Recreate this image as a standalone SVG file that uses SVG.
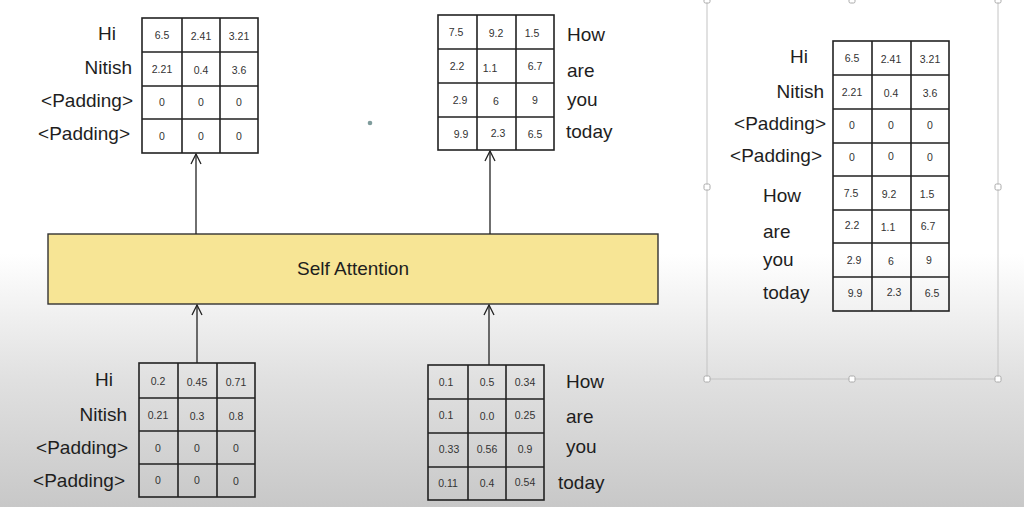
<svg xmlns="http://www.w3.org/2000/svg" width="1024" height="507" viewBox="0 0 1024 507">
  <defs>
    <linearGradient id="bg" x1="0" y1="0" x2="0" y2="1">
      <stop offset="0" stop-color="#ffffff"/>
      <stop offset="0.5" stop-color="#ffffff"/>
      <stop offset="0.75" stop-color="#e0e0e0"/>
      <stop offset="1" stop-color="#c8c8c8"/>
    </linearGradient>
    <marker id="arr" viewBox="0 0 12 12" refX="11" refY="6" markerWidth="12" markerHeight="12" markerUnits="userSpaceOnUse" orient="auto">
      <path d="M1,1 L11,6 L1,11" fill="none" stroke="#222" stroke-width="1.3"/>
    </marker>
    <style>
      .grid { fill: none; stroke: #222; stroke-width: 1.6; }
      .num { font-family: "Liberation Sans", Arial, sans-serif; font-size: 10.5px; fill: #333; text-anchor: middle; }
      .lbl { font-family: "Liberation Sans", Arial, sans-serif; font-size: 19px; fill: #1e1e1e; }
      .end { text-anchor: end; }
      .conn { stroke: #222; stroke-width: 1.3; fill: none; }
      .handle { fill: #ffffff; stroke: #aaaaaa; stroke-width: 1; }
    </style>
  </defs>

  <rect x="0" y="0" width="1024" height="507" fill="url(#bg)"/>
  <circle cx="370" cy="123" r="2.3" fill="#7f9c9c"/>

  <!-- selection frame of right panel -->
  <g id="selection-frame">
    <rect x="707" y="-1" width="291" height="380" fill="none" stroke="#c4c4c4" stroke-width="1"/>
    <rect class="handle" x="704" y="-3" width="6" height="6" rx="1.5"/>
    <rect class="handle" x="849" y="-3" width="6" height="6" rx="1.5"/>
    <rect class="handle" x="995" y="-3" width="6" height="6" rx="1.5"/>
    <rect class="handle" x="704" y="184" width="6" height="6" rx="1.5"/>
    <rect class="handle" x="995" y="184" width="6" height="6" rx="1.5"/>
    <rect class="handle" x="704" y="376" width="6" height="6" rx="1.5"/>
    <rect class="handle" x="849" y="376" width="6" height="6" rx="1.5"/>
    <rect class="handle" x="995" y="376" width="6" height="6" rx="1.5"/>
  </g>

  <!-- Self Attention -->
  <g id="self-attention">
    <rect x="48" y="234" width="610" height="70" fill="#f7e595" stroke="#333" stroke-width="1.4"/>
    <text x="353" y="275" class="lbl" text-anchor="middle" font-size="20">Self Attention</text>
  </g>

  <!-- connectors -->
  <g id="connectors">
    <line class="conn" x1="196" y1="234" x2="196" y2="154" marker-end="url(#arr)"/>
    <line class="conn" x1="490" y1="234" x2="490" y2="151" marker-end="url(#arr)"/>
    <line class="conn" x1="197" y1="363" x2="197" y2="305" marker-end="url(#arr)"/>
    <line class="conn" x1="489" y1="365" x2="489" y2="305" marker-end="url(#arr)"/>
  </g>

  <!-- top-left output matrix -->
  <g id="out-left">
    <rect class="grid" x="142" y="18" width="116" height="135"/>
    <path class="grid" d="M182,18 V153 M220,18 V153 M142,52 H258 M142,86 H258 M142,119 H258"/>
    <text class="num" x="162" y="39">6.5</text><text class="num" x="201" y="40">2.41</text><text class="num" x="239" y="40">3.21</text>
    <text class="num" x="162" y="73">2.21</text><text class="num" x="201" y="74">0.4</text><text class="num" x="239" y="74">3.6</text>
    <text class="num" x="162" y="106">0</text><text class="num" x="201" y="106">0</text><text class="num" x="239" y="106">0</text>
    <text class="num" x="162" y="140">0</text><text class="num" x="201" y="140">0</text><text class="num" x="239" y="140">0</text>
    <text class="lbl end" x="116" y="40">Hi</text>
    <text class="lbl end" x="132" y="74">Nitish</text>
    <text class="lbl end" x="133" y="107">&lt;Padding&gt;</text>
    <text class="lbl end" x="130" y="140">&lt;Padding&gt;</text>
  </g>

  <!-- top-middle output matrix -->
  <g id="out-right">
    <rect class="grid" x="438" y="15" width="116" height="135"/>
    <path class="grid" d="M477,15 V150 M516,15 V150 M438,49 H554 M438,83 H554 M438,117 H554"/>
    <text class="num" x="456" y="36">7.5</text><text class="num" x="496" y="37">9.2</text><text class="num" x="532" y="37">1.5</text>
    <text class="num" x="457" y="70">2.2</text><text class="num" x="490" y="72">1.1</text><text class="num" x="535" y="70">6.7</text>
    <text class="num" x="460" y="104">2.9</text><text class="num" x="496" y="105">6</text><text class="num" x="535" y="104">9</text>
    <text class="num" x="461" y="138">9.9</text><text class="num" x="498" y="137">2.3</text><text class="num" x="535" y="138">6.5</text>
    <text class="lbl" x="567" y="41">How</text>
    <text class="lbl" x="567" y="77">are</text>
    <text class="lbl" x="567" y="106">you</text>
    <text class="lbl" x="566" y="138">today</text>
  </g>

  <!-- bottom-left input matrix -->
  <g id="in-left">
    <rect class="grid" x="139" y="363" width="116" height="134"/>
    <path class="grid" d="M178,363 V497 M217,363 V497 M139,398 H255 M139,431 H255 M139,464 H255"/>
    <text class="num" x="158" y="385">0.2</text><text class="num" x="197" y="386">0.45</text><text class="num" x="236" y="386">0.71</text>
    <text class="num" x="158" y="419">0.21</text><text class="num" x="197" y="420">0.3</text><text class="num" x="236" y="420">0.8</text>
    <text class="num" x="158" y="452">0</text><text class="num" x="197" y="452">0</text><text class="num" x="236" y="452">0</text>
    <text class="num" x="158" y="484">0</text><text class="num" x="197" y="484">0</text><text class="num" x="236" y="485">0</text>
    <text class="lbl end" x="113" y="386">Hi</text>
    <text class="lbl end" x="127" y="421">Nitish</text>
    <text class="lbl end" x="128" y="454">&lt;Padding&gt;</text>
    <text class="lbl end" x="125" y="487">&lt;Padding&gt;</text>
  </g>

  <!-- bottom-right input matrix -->
  <g id="in-right">
    <rect class="grid" x="428" y="365" width="116" height="135"/>
    <path class="grid" d="M468,365 V500 M506,365 V500 M428,399 H544 M428,433 H544 M428,467 H544"/>
    <text class="num" x="446" y="386">0.1</text><text class="num" x="487" y="386">0.5</text><text class="num" x="525" y="386">0.34</text>
    <text class="num" x="446" y="419">0.1</text><text class="num" x="487" y="420">0.0</text><text class="num" x="525" y="419">0.25</text>
    <text class="num" x="449" y="453">0.33</text><text class="num" x="487" y="453">0.56</text><text class="num" x="525" y="453">0.9</text>
    <text class="num" x="448" y="487">0.11</text><text class="num" x="487" y="487">0.4</text><text class="num" x="525" y="486">0.54</text>
    <text class="lbl" x="566" y="388">How</text>
    <text class="lbl" x="566" y="423">are</text>
    <text class="lbl" x="566" y="453">you</text>
    <text class="lbl" x="558" y="489">today</text>
  </g>

  <!-- right panel combined matrix -->
  <g id="combined">
    <rect class="grid" x="833" y="41" width="116" height="270"/>
    <path class="grid" d="M872,41 V311 M911,41 V311 M833,75 H949 M833,109 H949 M833,143 H949 M833,176 H949 M833,210 H949 M833,243 H949 M833,277 H949"/>
    <text class="num" x="852" y="62">6.5</text><text class="num" x="891" y="63">2.41</text><text class="num" x="930" y="63">3.21</text>
    <text class="num" x="852" y="96">2.21</text><text class="num" x="891" y="97">0.4</text><text class="num" x="930" y="97">3.6</text>
    <text class="num" x="852" y="129">0</text><text class="num" x="891" y="129">0</text><text class="num" x="930" y="129">0</text>
    <text class="num" x="852" y="161">0</text><text class="num" x="891" y="160">0</text><text class="num" x="930" y="161">0</text>
    <text class="num" x="851" y="197">7.5</text><text class="num" x="889" y="198">9.2</text><text class="num" x="927" y="198">1.5</text>
    <text class="num" x="852" y="229">2.2</text><text class="num" x="888" y="231">1.1</text><text class="num" x="928" y="230">6.7</text>
    <text class="num" x="854" y="264">2.9</text><text class="num" x="891" y="265">6</text><text class="num" x="929" y="264">9</text>
    <text class="num" x="855" y="297">9.9</text><text class="num" x="894" y="296">2.3</text><text class="num" x="932" y="297">6.5</text>
    <text class="lbl end" x="808" y="63">Hi</text>
    <text class="lbl end" x="824" y="98">Nitish</text>
    <text class="lbl end" x="826" y="130">&lt;Padding&gt;</text>
    <text class="lbl end" x="822" y="162">&lt;Padding&gt;</text>
    <text class="lbl" x="763" y="202">How</text>
    <text class="lbl" x="763" y="238">are</text>
    <text class="lbl" x="763" y="266">you</text>
    <text class="lbl" x="763" y="299">today</text>
  </g>
</svg>
